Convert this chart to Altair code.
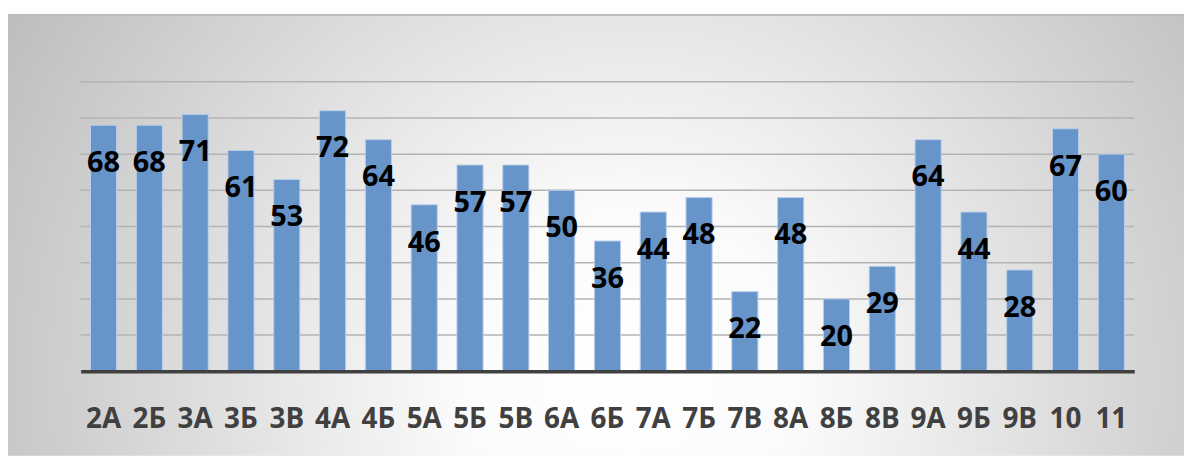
import altair as alt
import pandas as pd

categories = ["2А", "2Б", "3А", "3Б", "3В", "4А", "4Б", "5А", "5Б", "5В", "6А", "6Б",
              "7А", "7Б", "7В", "8А", "8Б", "8В", "9А", "9Б", "9В", "10", "11"]
values = [68, 68, 71, 61, 53, 72, 64, 46, 57, 57, 50, 36, 44, 48, 22, 48, 20, 29, 64, 44, 28, 67, 60]
grid_values = [10, 20, 30, 40, 50, 60, 70, 80]

df = pd.DataFrame({"cat": categories, "val": values})
gdf = pd.DataFrame({"g": grid_values})

W, H = 1059, 291
PAD = {"left": 73, "top": 73, "right": 50, "bottom": 85}

bg = alt.Chart(pd.DataFrame({"a": [0]})).mark_rect(
    color={
        "gradient": "radial",
        "x1": 0.53, "y1": 0.62, "r1": 0,
        "x2": 0.53, "y2": 0.62, "r2": 0.72,
        "stops": [
            {"offset": 0, "color": "#ffffff"},
            {"offset": 0.2, "color": "#fbfbfb"},
            {"offset": 1, "color": "#afafaf"},
        ],
    }
).encode(
    x=alt.value(-75), x2=alt.value(W + PAD["right"]),
    y=alt.value(-67), y2=alt.value(H + PAD["bottom"]),
)

topline = alt.Chart(pd.DataFrame({"a": [0]})).mark_rule(color="#bdbdbd", strokeWidth=2).encode(
    x=alt.value(-75), x2=alt.value(W + PAD["right"]), y=alt.value(-67)
)

y_scale = alt.Scale(domain=[0, 80], nice=False)

grid = alt.Chart(gdf).mark_rule(color="#b3b3b3", strokeWidth=1.5).encode(
    y=alt.Y("g:Q", scale=y_scale, axis=None),
    x=alt.value(0), x2=alt.value(W),
)

x_enc = alt.X("cat:N", sort=None, scale=alt.Scale(paddingInner=0.43, paddingOuter=0.215),
              axis=alt.Axis(title=None, labelAngle=0, ticks=False, labelPadding=34,
                            labelFont="Open Sans", labelFontWeight="bold", labelFontSize=28,
                            labelColor="#404040", domainColor="#404040", domainWidth=3.5,
                            grid=False, zindex=1))
y_enc = alt.Y("val:Q", scale=y_scale, axis=None)

bars = alt.Chart(df).mark_bar(color="#6794c9", stroke="#b8cfea", strokeWidth=1).encode(
    x=x_enc, y=y_enc
)

labels = alt.Chart(df).mark_text(
    font="Open Sans", fontWeight="bold", fontSize=29, color="#000000",
    baseline="middle", dy=38
).encode(
    x=alt.X("cat:N", sort=None), y=alt.Y("val:Q"), text=alt.Text("val:Q")
)

chart = alt.layer(bg, topline, grid, bars, labels).properties(
    width=W, height=H,
    autosize=alt.AutoSizeParams(type="none"),
    padding=PAD,
    background="#ffffff",
).configure_view(stroke=None)

chart.save("out.html", embed_options={"renderer": "svg", "actions": False})
